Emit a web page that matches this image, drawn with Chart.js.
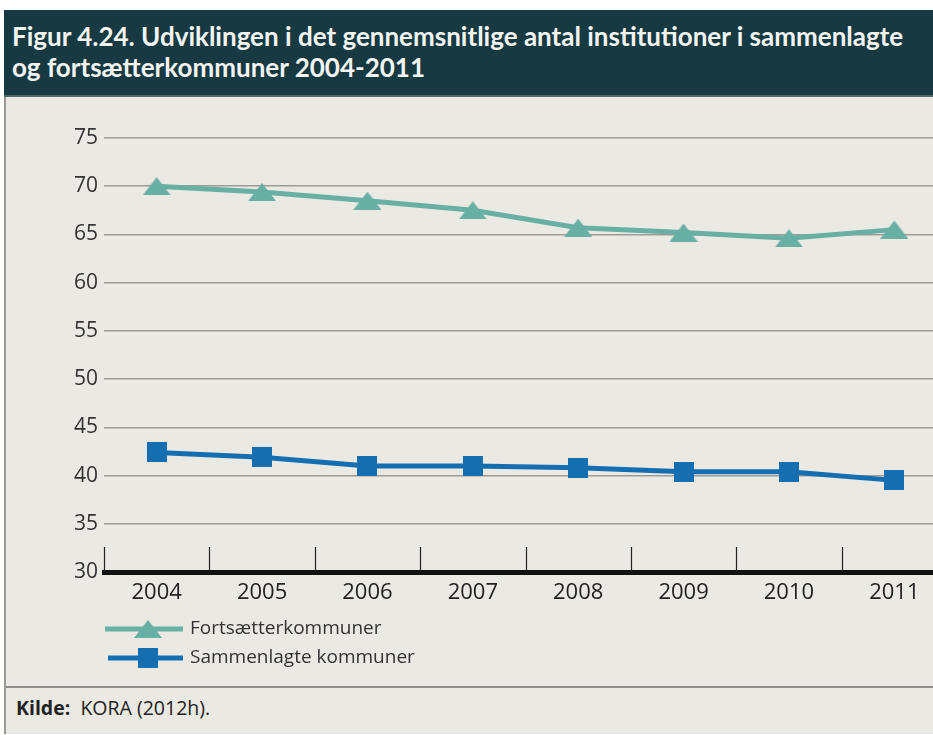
<!DOCTYPE html>
<html>
<head>
<meta charset="utf-8">
<script src="https://cdn.jsdelivr.net/npm/chart.js@4"></script>
<style>
  html, body { margin: 0; padding: 0; background: #ffffff; overflow: hidden; }
  #panel { position: absolute; left: 4px; top: 10px; width: 940px; height: 724px; background: #eae9e3; border-left: 2px solid #9a9994; }
  #title { position: absolute; left: 4px; top: 10px; width: 940px; height: 87px; background: #173a42; border-bottom: 2px solid #53666a;
           color: #f4f4f2; font-family: Lato, sans-serif; font-weight: bold; font-size: 26px; line-height: 31px; padding: 0 0 0 8px; box-sizing: border-box; }
  #title div { padding-top: 11px; }
  #wrap { position: absolute; left: 0; top: 101px; width: 933px; height: 520px; overflow: hidden; }
  #wrap canvas { position: absolute; left: 0; top: 0; }
  .leg { position: absolute; left: 105px; height: 24px; font-family: "Open Sans", sans-serif; font-size: 19px; color: #333; }
  .leg svg { position: absolute; left: 0; top: 0; }
  .leg span { position: absolute; left: 85px; top: -3px; white-space: nowrap; }
  #sep { position: absolute; left: 6px; top: 686px; width: 930px; height: 2px; background: #8f8e8a; }
  #kilde { position: absolute; left: 16px; top: 694px; font-family: "Open Sans", sans-serif; font-size: 19.5px; color: #222; }
</style>
</head>
<body>
<div id="panel"></div>
<div id="title"><div>Figur 4.24. Udviklingen i det gennemsnitlige antal institutioner i sammenlagte<br>og fortsætterkommuner 2004-2011</div></div>
<div id="wrap"><canvas id="chart"></canvas></div>
<div class="leg" style="top:617px">
  <svg width="82" height="24"><line x1="0" y1="12" x2="78" y2="12" stroke="#68afa4" stroke-width="5"/><polygon points="43,3 57,21 29,21" fill="#68afa4"/></svg>
  <span>Fortsætterkommuner</span>
</div>
<div class="leg" style="top:646px">
  <svg width="82" height="24"><line x1="3" y1="12" x2="78" y2="12" stroke="#156eb0" stroke-width="5"/><rect x="33" y="2" width="20" height="20" fill="#156eb0"/></svg>
  <span>Sammenlagte kommuner</span>
</div>
<div id="sep"></div>
<div id="kilde"><b>Kilde:</b>&nbsp; KORA (2012h).</div>
<script>
// data
var years = ["2004", "2005", "2006", "2007", "2008", "2009", "2010", "2011"];
var fortsaetter = [70.0, 69.4, 68.5, 67.5, 65.7, 65.2, 64.6, 65.5];
var sammenlagte = [42.4, 41.9, 41.0, 41.0, 40.8, 40.4, 40.4, 39.5];
var yMin = 30, yMax = 75, yStep = 5;

var teal = "#68afa4";
var blue = "#156eb0";

// marker images (flat triangle, square)
function triangle(w, h, color) {
    var c = document.createElement("canvas");
    c.width = w; c.height = h;
    var g = c.getContext("2d");
    g.fillStyle = color;
    g.beginPath();
    g.moveTo(w / 2, 0);
    g.lineTo(w, h);
    g.lineTo(0, h);
    g.closePath();
    g.fill();
    return c;
}
function square(s, color) {
    var c = document.createElement("canvas");
    c.width = s; c.height = s;
    var g = c.getContext("2d");
    g.fillStyle = color;
    g.fillRect(0, 0, s, s);
    return c;
}

// short tick marks between categories, standing up from the x axis
var catTicks = {
    id: "catTicks",
    afterDatasetsDraw: function (chart) {
        var x = chart.scales.x, ctx = chart.ctx;
        var n = years.length, step = x.width / n;
        ctx.save();
        ctx.strokeStyle = "#222";
        ctx.lineWidth = 1.2;
        for (var i = 0; i < n; i++) {
            var px = Math.round(x.left + i * step) + 0.5;
            ctx.beginPath();
            ctx.moveTo(px, x.top);
            ctx.lineTo(px, x.top - 25);
            ctx.stroke();
        }
        ctx.restore();
    }
};

var canvas = document.getElementById("chart");
canvas.width = 956;
canvas.height = 520;
canvas.style.width = "956px";
canvas.style.height = "520px";

new Chart(canvas.getContext("2d"), {
    type: "line",
    data: {
        labels: years,
        datasets: [{
            label: "Fortsætterkommuner",
            data: fortsaetter,
            borderColor: teal,
            backgroundColor: teal,
            borderWidth: 5,
            pointStyle: triangle(28, 18, teal),
            tension: 0
        }, {
            label: "Sammenlagte kommuner",
            data: sammenlagte,
            borderColor: blue,
            backgroundColor: blue,
            borderWidth: 5,
            pointStyle: square(20, blue),
            tension: 0
        }]
    },
    plugins: [catTicks],
    options: {
        responsive: false,
        animation: false,
        layout: { padding: { top: 37, right: 3, left: 0, bottom: 0 } },
        plugins: {
            legend: { display: false },
            tooltip: { enabled: false }
        },
        scales: {
            x: {
                offset: true,
                grid: { display: false },
                border: { display: true, color: "#111", width: 5 },
                ticks: { color: "#222", font: { family: "Open Sans", size: 22 }, padding: 0, maxRotation: 0 },
                afterFit: function (s) { s.height = 49; }
            },
            y: {
                min: yMin,
                max: yMax,
                ticks: { stepSize: yStep, color: "#333", font: { family: "Open Sans", size: 21 }, padding: 6 },
                grid: {
                    drawTicks: false,
                    lineWidth: 1.5,
                    color: function (c) { return c.tick && c.tick.value === yMin ? "rgba(0,0,0,0)" : "#9e9c96"; }
                },
                border: { display: false },
                afterFit: function (s) { s.width = 104; }
            }
        }
    }
});
</script>
</body>
</html>
